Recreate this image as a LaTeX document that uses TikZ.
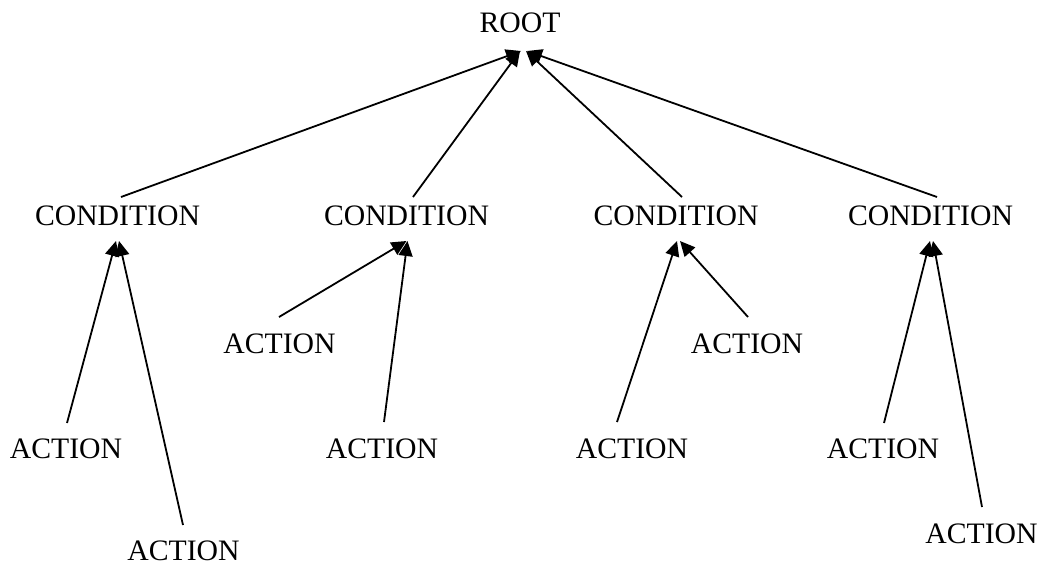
\documentclass[tikz,border=0pt]{standalone}
\usepackage{fontspec}
\setmainfont{Liberation Serif}
\usetikzlibrary{arrows.meta}
\newcommand\treelabelfont{\fontsize{29.7pt}{32pt}\selectfont}
\begin{document}
\begin{tikzpicture}[x=1pt,y=-1pt,
  lbl/.style={inner sep=0pt, text height=19.7pt, text depth=0pt, font=\treelabelfont},
  edge/.style={-{Triangle[length=15pt,width=14pt]}, line width=1.8pt}]
\useasboundingbox (0,0) rectangle (1039,563);

% tree labels
\node[lbl] (root) at (520,23)    {ROOT};
\node[lbl] (c1)   at (117.5,216) {CONDITION};
\node[lbl] (c2)   at (406.5,216) {CONDITION};
\node[lbl] (c3)   at (676,216)   {CONDITION};
\node[lbl] (c4)   at (930.5,216) {CONDITION};
\node[lbl] (a1a)  at (66,449)    {ACTION};
\node[lbl] (a1b)  at (183.5,550.5) {ACTION};
\node[lbl] (a2a)  at (279.5,344) {ACTION};
\node[lbl] (a2b)  at (382,449)   {ACTION};
\node[lbl] (a3a)  at (632,449)   {ACTION};
\node[lbl] (a3b)  at (747,344)   {ACTION};
\node[lbl] (a4a)  at (883,449)   {ACTION};
\node[lbl] (a4b)  at (981.5,534) {ACTION};

% conditions point up to the root
\draw[edge] ([shift={(3.5,-19)}]c1.center) -- ([shift={(1,28)}]root.center);
\draw[edge] ([shift={(6.5,-19)}]c2.center) -- ([shift={(0,28)}]root.center);
\draw[edge] ([shift={(6,-19)}]c3.center)   -- ([shift={(6,28)}]root.center);
\draw[edge] ([shift={(6.5,-19)}]c4.center) -- ([shift={(7,28)}]root.center);

% actions point up to their condition
\draw[edge] ([shift={(1,-26)}]a1a.center)   -- ([shift={(-1.5,25)}]c1.center);
\draw[edge] ([shift={(-0.5,-25.5)}]a1b.center) -- ([shift={(1.5,25)}]c1.center);
\draw[edge] ([shift={(-0.5,-27)}]a2a.center) -- ([shift={(0,25)}]c2.center);
\draw[edge] ([shift={(2,-27)}]a2b.center)   -- ([shift={(1,25)}]c2.center);
\draw[edge] ([shift={(-15,-27)}]a3a.center) -- ([shift={(1,25)}]c3.center);
\draw[edge] ([shift={(1,-27)}]a3b.center)   -- ([shift={(4,25)}]c3.center);
\draw[edge] ([shift={(1,-26)}]a4a.center)   -- ([shift={(-0.5,25)}]c4.center);
\draw[edge] ([shift={(0.5,-27)}]a4b.center) -- ([shift={(2.5,25)}]c4.center);
\end{tikzpicture}
\end{document}
